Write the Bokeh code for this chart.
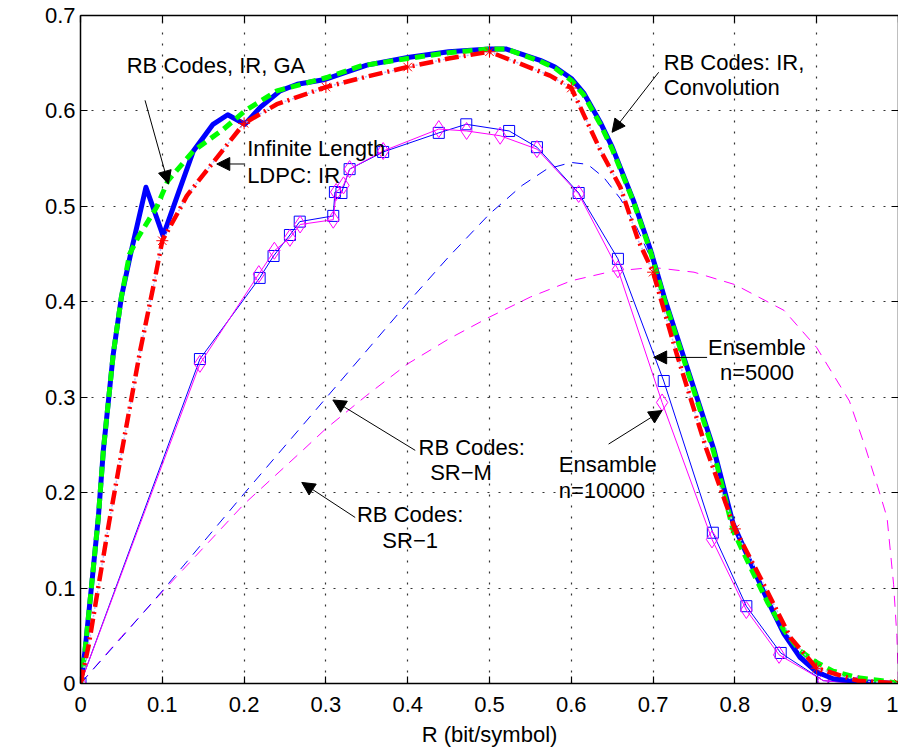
import math
from bokeh.plotting import figure
from bokeh.models import Range1d, LinearAxis, FixedTicker, Label, Arrow, NormalHead
from bokeh.embed import file_html
from bokeh.resources import INLINE

# ---------------- data ----------------
# RB Codes: IR, Convolution (thick blue)
conv_R = [0, 0.0055, 0.0137, 0.0218, 0.028, 0.04, 0.05, 0.062, 0.08, 0.101, 0.12, 0.138,
          0.162, 0.18, 0.201, 0.22, 0.244, 0.265, 0.299, 0.35, 0.4, 0.45, 0.5, 0.52, 0.562,
          0.58, 0.6, 0.615, 0.6355, 0.65, 0.676, 0.6966, 0.715, 0.774, 0.798, 0.82, 0.84,
          0.86, 0.88, 0.9, 0.92, 0.95, 1.0]
conv_eta = [0, 0.034, 0.104, 0.174, 0.245, 0.345, 0.405, 0.453, 0.52, 0.469, 0.515, 0.558,
            0.586, 0.596, 0.586, 0.604, 0.621, 0.628, 0.633, 0.648, 0.656, 0.662, 0.665, 0.665,
            0.653, 0.646, 0.634, 0.619, 0.588, 0.562, 0.506, 0.455, 0.401, 0.246, 0.167,
            0.125, 0.087, 0.052, 0.027, 0.012, 0.005, 0.002, 0.0]

# RB Codes, IR, GA (thick green dashed)
ga_R = [0, 0.0055, 0.0137, 0.0218, 0.028, 0.04, 0.05, 0.06, 0.0707, 0.093, 0.107, 0.138,
        0.175, 0.201, 0.24, 0.301, 0.342, 0.4, 0.45, 0.5, 0.52, 0.562, 0.58, 0.6, 0.615,
        0.6355, 0.65, 0.676, 0.6966, 0.715, 0.774, 0.798, 0.82, 0.84, 0.86, 0.88, 0.9,
        0.92, 0.95, 0.98, 1.0]
ga_eta = [0, 0.034, 0.104, 0.174, 0.245, 0.345, 0.405, 0.45, 0.468, 0.499, 0.527, 0.558,
          0.581, 0.6, 0.621, 0.635, 0.647, 0.655, 0.661, 0.665, 0.665, 0.652, 0.645, 0.632,
          0.617, 0.586, 0.56, 0.505, 0.453, 0.399, 0.243, 0.16, 0.12, 0.085, 0.056, 0.034,
          0.022, 0.013, 0.006, 0.003, 0.0]

# Infinite Length LDPC: IR (red dash-dot with stars)
ldpc_R = [0, 0.01, 0.02, 0.035, 0.05, 0.073, 0.09, 0.1, 0.12, 0.13, 0.15, 0.175, 0.2, 0.24,
          0.3, 0.35, 0.4, 0.45, 0.5, 0.533, 0.574, 0.6, 0.636, 0.66, 0.682, 0.7, 0.729,
          0.765, 0.8, 0.831, 0.868, 0.9, 0.95, 1.0]
ldpc_eta = [0, 0.04, 0.092, 0.169, 0.241, 0.349, 0.42, 0.464, 0.495, 0.511, 0.533, 0.56,
            0.587, 0.607, 0.625, 0.636, 0.646, 0.655, 0.662, 0.651, 0.637, 0.624, 0.558,
            0.52, 0.464, 0.431, 0.345, 0.246, 0.162, 0.111, 0.048, 0.016, 0.003, 0.0]
ldpc_mark_R = [0, 0.1, 0.2, 0.3, 0.4, 0.5, 0.6, 0.7, 0.8, 0.9, 1.0]
ldpc_mark_eta = [0, 0.464, 0.587, 0.625, 0.646, 0.662, 0.624, 0.431, 0.162, 0.016, 0.0]

# Ensemble n=5000 (blue squares)
ens5000_R = [0, 0.146, 0.219, 0.236, 0.256, 0.268, 0.309, 0.311, 0.319, 0.329, 0.37, 0.438,
             0.4716, 0.524, 0.558, 0.609, 0.657, 0.713, 0.773, 0.814, 0.856, 0.908, 0.951]
ens5000_eta = [0, 0.34, 0.425, 0.448, 0.47, 0.484, 0.49, 0.515, 0.514, 0.539, 0.557, 0.577,
               0.586, 0.579, 0.562, 0.514, 0.445, 0.317, 0.158, 0.081, 0.032, 0.003, 0.0]

# Ensamble n=10000 (magenta diamonds)
ens10000_R = [0, 0.146, 0.218, 0.237, 0.256, 0.2685, 0.309, 0.3125, 0.3215, 0.329, 0.37,
              0.438, 0.472, 0.513, 0.558, 0.609, 0.657, 0.711, 0.772, 0.814, 0.854, 0.908, 0.951]
ens10000_eta = [0, 0.335, 0.429, 0.4535, 0.467, 0.481, 0.486, 0.515, 0.522, 0.539, 0.558,
                0.581, 0.579, 0.574, 0.56, 0.513, 0.434, 0.2945, 0.151, 0.077, 0.03, 0.003, 0.0]

# RB Codes: SR-M (blue dashed)
srm_R = [0, 0.05, 0.1, 0.2, 0.3, 0.4, 0.45, 0.5, 0.54, 0.57, 0.6, 0.62, 0.64, 0.66, 0.68,
         0.7, 0.72, 0.774, 0.8, 0.84, 0.88, 0.92, 1.0]
srm_eta = [0, 0.048, 0.097, 0.199, 0.299, 0.399, 0.447, 0.492, 0.522, 0.539, 0.546, 0.544,
           0.53, 0.508, 0.478, 0.44, 0.39, 0.244, 0.163, 0.085, 0.03, 0.005, 0.0]

# RB Codes: SR-1 (magenta dashed)
sr1_R = [0, 0.05, 0.1, 0.15, 0.2, 0.27, 0.3, 0.35, 0.4, 0.45, 0.5, 0.55, 0.6, 0.65, 0.7,
         0.75, 0.8, 0.86, 0.9, 0.94, 0.96, 0.975, 0.986, 0.994, 0.998, 1.0]
sr1_eta = [0, 0.049, 0.096, 0.142, 0.188, 0.243, 0.267, 0.302, 0.335, 0.361, 0.384, 0.405,
           0.422, 0.432, 0.436, 0.431, 0.418, 0.391, 0.352, 0.296, 0.246, 0.205, 0.174,
           0.104, 0.05, 0.0]

x_ticks = [0, 0.1, 0.2, 0.3, 0.4, 0.5, 0.6, 0.7, 0.8, 0.9, 1]
x_tick_labels = ["0", "0.1", "0.2", "0.3", "0.4", "0.5", "0.6", "0.7", "0.8", "0.9", "1"]
y_ticks = [0, 0.1, 0.2, 0.3, 0.4, 0.5, 0.6, 0.7]
y_tick_labels = ["0", "0.1", "0.2", "0.3", "0.4", "0.5", "0.6", "0.7"]

FONT = "Liberation Sans"
FS = "22px"

p = figure(frame_width=818, frame_height=668, min_border_left=80, min_border_right=0,
           min_border_top=15, min_border_bottom=69,
           x_range=Range1d(0, 1), y_range=Range1d(0, 0.7),
           output_backend="svg", toolbar_location=None,
           background_fill_color="white", border_fill_color="white")
p.outline_line_color = None

# grid
for g, t in ((p.xgrid, x_ticks), (p.ygrid, y_ticks)):
    g.ticker = FixedTicker(ticks=t)
    g.grid_line_color = "#333333"
    g.grid_line_dash = "2 9"
    g.grid_line_width = 1.2


def style_axis(ax, ticks, labels, show_labels):
    ax.ticker = FixedTicker(ticks=ticks)
    if show_labels:
        ax.major_label_overrides = {t: l for t, l in zip(ticks, labels)}
    else:
        ax.major_label_overrides = {t: "" for t in ticks}
    ax.major_tick_in = 7
    ax.major_tick_out = 0
    ax.minor_tick_line_color = None
    ax.axis_line_color = "black"
    ax.axis_line_width = 1.5
    ax.major_tick_line_color = "black"
    ax.major_tick_line_width = 1.2
    ax.major_label_text_font = FONT
    ax.major_label_text_font_size = FS
    ax.major_label_text_color = "black"
    ax.axis_label_text_font = FONT
    ax.axis_label_text_font_style = "normal"
    ax.axis_label_text_color = "black"


style_axis(p.xaxis[0], x_ticks, x_tick_labels, True)
style_axis(p.yaxis[0], y_ticks, y_tick_labels, True)
p.xaxis[0].axis_label = "R (bit/symbol)"
p.xaxis[0].axis_label_text_font_size = FS
p.xaxis[0].major_label_standoff = 13
p.xaxis[0].axis_label_standoff = 7
p.yaxis[0].major_label_standoff = 5

top_ax = LinearAxis()
style_axis(top_ax, x_ticks, x_tick_labels, False)
top_ax.major_label_standoff = 0
p.add_layout(top_ax, "above")
right_ax = LinearAxis()
style_axis(right_ax, y_ticks, y_tick_labels, False)
right_ax.major_label_standoff = 0
p.add_layout(right_ax, "right")

# y axis title, placed like the reference (slightly above the frame's centre)
p.add_layout(Label(x=-0.0691, y=0.3597, text="η (bit/s/Hz)", angle=math.pi / 2,
                   text_font=FONT, text_font_size="18px", text_color="black",
                   text_align="center", text_baseline="middle"))

# curves
p.line(sr1_R, sr1_eta, line_color="#FF00FF", line_width=1, line_dash="11 8")
p.line(srm_R, srm_eta, line_color="#0000FF", line_width=1, line_dash="11 8")

p.line(ens5000_R, ens5000_eta, line_color="#0000FF", line_width=1)
p.scatter(ens5000_R, ens5000_eta, marker="square", size=11, line_color="#0000FF",
          fill_color=None, line_width=1)
p.line(ens10000_R, ens10000_eta, line_color="#FF00FF", line_width=1)
p.scatter(ens10000_R, ens10000_eta, marker="diamond", size=17, line_color="#FF00FF",
          fill_color=None, line_width=1)

p.line(conv_R, conv_eta, line_color="#0000FF", line_width=5, line_join="round")
p.line(ga_R, ga_eta, line_color="#00FF00", line_width=5, line_dash="10 6")
p.line(ldpc_R, ldpc_eta, line_color="#B4B4FF", line_width=1.5, line_dash="2 2")
p.line(ldpc_R, ldpc_eta, line_color="#FF0000", line_width=4.5, line_dash="14 5 2 5")
p.scatter(ldpc_mark_R, ldpc_mark_eta, marker="asterisk", size=12, line_color="#FF0000",
          line_width=1)


def lab(x, y, text, align="left"):
    p.add_layout(Label(x=x, y=y, text=text, text_font=FONT, text_font_size=FS,
                       text_color="black", text_align=align, text_baseline="alphabetic"))


def arr(x0, y0, x1, y1):
    p.add_layout(Arrow(x_start=x0, y_start=y0, x_end=x1, y_end=y1, line_width=1,
                       line_color="black",
                       end=NormalHead(size=13, fill_color="black", line_color="black",
                                      line_width=1)))


lab(0.0565, 0.6475, "RB Codes, IR, GA")
arr(0.0789, 0.6111, 0.1074, 0.5235)

lab(0.2037, 0.5605, "Infinite Length")
lab(0.2037, 0.5322, "LDPC: IR")
arr(0.2012, 0.5444, 0.1666, 0.5444)

lab(0.7129, 0.651, "RB Codes: IR,")
lab(0.7129, 0.6241, "Convolution")
arr(0.7068, 0.6405, 0.6498, 0.5776)

lab(0.8269, 0.3522, "Ensemble", "center")
lab(0.8269, 0.326, "n=5000", "center")
arr(0.766, 0.3417, 0.7007, 0.3417)

lab(0.5847, 0.23, "Ensamble")
lab(0.5847, 0.202, "n=10000")
arr(0.6456, 0.2509, 0.711, 0.286)

lab(0.4132, 0.2474, "RB Codes:")
lab(0.4275, 0.2212, "SR−M")
arr(0.4092, 0.2443, 0.3085, 0.2971)

lab(0.403, 0.1776, "RB Codes:", "center")
lab(0.403, 0.1503, "SR−1", "center")
arr(0.3358, 0.174, 0.2705, 0.2107)

open("out.html", "w").write(file_html(p, INLINE))
